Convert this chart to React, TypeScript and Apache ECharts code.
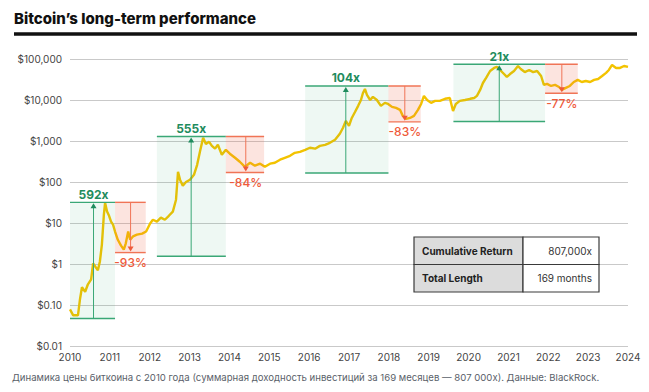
import React, { useEffect, useRef } from "react";
import * as echarts from "echarts";

// Bitcoin price: [year, price in USD]
const priceYears = [
  2010.0, 2010.08, 2010.2, 2010.25, 2010.3, 2010.38, 2010.45, 2010.53, 2010.58, 2010.65,
  2010.7, 2010.75, 2010.8, 2010.85, 2010.88, 2010.93, 2010.98, 2011.03, 2011.08, 2011.13,
  2011.2, 2011.28, 2011.35, 2011.4, 2011.46, 2011.51, 2011.58, 2011.68, 2011.81, 2011.91,
  2012.01, 2012.08, 2012.18, 2012.28, 2012.38, 2012.48, 2012.58, 2012.66, 2012.71, 2012.76,
  2012.83, 2012.91, 2013.01, 2013.11, 2013.19, 2013.26, 2013.34, 2013.41, 2013.49, 2013.56,
  2013.64, 2013.71, 2013.81, 2013.91, 2014.01, 2014.14, 2014.26, 2014.39, 2014.52, 2014.64,
  2014.77, 2014.89, 2015.02, 2015.14, 2015.27, 2015.39, 2015.52, 2015.64, 2015.77, 2015.9,
  2016.02, 2016.15, 2016.27, 2016.4, 2016.52, 2016.65, 2016.77, 2016.85, 2016.92, 2017.0,
  2017.07, 2017.15, 2017.23, 2017.3, 2017.35, 2017.4, 2017.45, 2017.53, 2017.6, 2017.7,
  2017.8, 2017.9, 2017.98, 2018.08, 2018.18, 2018.28, 2018.35, 2018.43, 2018.53, 2018.63,
  2018.73, 2018.81, 2018.88, 2018.96, 2019.06, 2019.16, 2019.28, 2019.41, 2019.53, 2019.61,
  2019.68, 2019.78, 2019.91, 2020.04, 2020.14, 2020.21, 2020.29, 2020.36, 2020.44, 2020.54,
  2020.64, 2020.71, 2020.79, 2020.89, 2020.96, 2021.04, 2021.14, 2021.24, 2021.31, 2021.41,
  2021.52, 2021.62, 2021.72, 2021.82, 2021.89, 2021.97, 2022.07, 2022.17, 2022.27, 2022.34,
  2022.44, 2022.54, 2022.64, 2022.74, 2022.84, 2022.94, 2023.05, 2023.15, 2023.25, 2023.35,
  2023.45, 2023.52, 2023.6, 2023.7, 2023.8, 2023.9, 2024.0,
];
const prices = [
  0.078, 0.056, 0.056, 0.137, 0.27, 0.21, 0.32, 0.42, 1.03, 0.82,
  0.7, 1.15, 2.98, 16, 31, 19, 15, 10.8, 9.1, 6.2,
  3.9, 2.8, 2.25, 3.2, 6.2, 3.9, 4.7, 5.2, 5.5, 6.2,
  9.7, 12, 10.8, 13.5, 12, 15, 19, 37, 178, 114,
  81, 100, 114, 150, 263, 545, 1200, 850, 955, 760,
  650, 810, 460, 610, 490, 390, 312, 235, 295, 250,
  280, 235, 280, 295, 350, 390, 435, 515, 545, 610,
  685, 650, 760, 807, 905, 1070, 1500, 2100, 3100, 2340,
  3650, 5100, 7200, 10000, 14800, 18600, 13300, 10000, 11900, 10000,
  7200, 8500, 8000, 6800, 6400, 5750, 4100, 3450, 3650, 4100,
  5750, 8000, 12600, 10000, 8500, 9500, 9500, 10700, 11200, 5400,
  8000, 9500, 10000, 10700, 11200, 12600, 17600, 26000, 34500, 51000,
  60500, 64000, 54000, 43000, 36500, 43000, 51000, 67500, 57000, 48000,
  54000, 48000, 51000, 38500, 23300, 24700, 22000, 23300, 20800, 17600,
  19700, 22000, 27500, 31000, 27500, 29000, 27500, 31000, 32500, 38500,
  46000, 54000, 71500, 60500, 60500, 67500, 64000,
];

// Market cycles: rally window start/end, drawdown end, arrow positions, levels
const cycleStart = [2010.0, 2012.18, 2015.9, 2019.62];
const cyclePeakEnd = [2011.13, 2013.91, 2017.99, 2021.92];
const cycleDrawEnd = [2011.9, 2014.87, 2018.8, 2022.74];
const gainArrowYear = [2010.59, 2013.04, 2016.92, 2020.77];
const lossArrowYear = [2011.52, 2014.41, 2018.4, 2022.34];
const cycleHigh = [31.9, 1290, 22000, 74300];
const cycleLow = [0.047, 1.55, 166, 2980];
const drawdownLow = [1.9, 171, 2930, 14600];
const gainLabels = ["592x", "555x", "104x", "21x"];
const lossLabels = ["-93%", "-84%", "-83%", "-77%"];

const yearTicks = [2010, 2011, 2012, 2013, 2014, 2015, 2016, 2017, 2018, 2019, 2020, 2021, 2022, 2023, 2024];

const tableLabels = ["Cumulative Return", "Total Length"];
const tableValues = ["807,000x", "169 months"];

const title = "Bitcoin’s long-term performance";
const caption =
  "Динамика цены биткоина с 2010 года (суммарная доходность инвестиций за 169 месяцев — 807 000х). Данные: BlackRock.";

const GREEN_LINE = "#3aa776";
const GREEN_TEXT = "#1f8c5e";
const RED_LINE = "#f07456";
const RED_TEXT = "#ef5a3a";
const FONT = "Inter, 'Noto Sans', sans-serif";

function fmtPrice(v: number): string {
  const n = Number(v.toPrecision(3));
  if (n < 1) return "$" + n.toFixed(2);
  return "$" + Math.round(n).toLocaleString("en-US");
}

export default function App() {
  const ref = useRef<HTMLDivElement>(null);

  useEffect(() => {
    if (!ref.current) return;
    const chart = echarts.init(ref.current, undefined, { renderer: "svg" });

    const lineData = priceYears.map((y, i) => [y, prices[i]]);
    const cycleData = cycleStart.map((s, i) => [
      s,
      cyclePeakEnd[i],
      cycleDrawEnd[i],
      gainArrowYear[i],
      lossArrowYear[i],
      cycleHigh[i],
      cycleLow[i],
      drawdownLow[i],
    ]);

    // Table geometry
    const tX = 414, tY = 237, tW = 185, rowH = 27.5, colW = 109;
    const tableGraphics: any[] = [];
    tableLabels.forEach((lab, i) => {
      tableGraphics.push({
        type: "rect",
        shape: { x: tX, y: tY + i * rowH, width: colW, height: rowH },
        style: { fill: "#dcdcdc", stroke: "#3a3a3a", lineWidth: 1.2 },
        z: 100,
      });
      tableGraphics.push({
        type: "rect",
        shape: { x: tX + colW, y: tY + i * rowH, width: tW - colW, height: rowH },
        style: { fill: "#ffffff", stroke: "#3a3a3a", lineWidth: 1.2 },
        z: 100,
      });
      tableGraphics.push({
        type: "text",
        x: tX + 8,
        y: tY + i * rowH + rowH / 2,
        style: {
          text: lab,
          fill: "#222",
          font: `bold 10px ${FONT}`,
          textVerticalAlign: "middle",
          textAlign: "left",
        },
        z: 101,
      });
      tableGraphics.push({
        type: "text",
        x: tX + tW - 7,
        y: tY + i * rowH + rowH / 2,
        style: {
          text: tableValues[i],
          fill: "#333",
          font: `10px ${FONT}`,
          textVerticalAlign: "middle",
          textAlign: "right",
        },
        z: 101,
      });
    });

    const option: any = {
      animation: false,
      backgroundColor: "#ffffff",
      grid: { left: 70, right: 21, top: 59, bottom: 46, containLabel: false },
      xAxis: {
        type: "value",
        min: yearTicks[0],
        max: yearTicks[yearTicks.length - 1],
        interval: 1,
        axisLine: { show: false },
        axisTick: { show: false },
        splitLine: { show: false },
        axisLabel: {
          color: "#444",
          fontFamily: FONT,
          fontSize: 10,
          margin: 6,
          formatter: (v: number) => String(Math.round(v)),
        },
      },
      yAxis: {
        type: "log",
        logBase: 10,
        min: 0.01,
        max: 100000,
        splitNumber: 7,
        axisLine: { show: false },
        axisTick: { show: false },
        splitLine: { show: true, lineStyle: { color: "#c9c9c9", width: 1 } },
        axisLabel: {
          color: "#444",
          fontFamily: FONT,
          fontSize: 10,
          margin: 8,
          formatter: (v: number) => fmtPrice(v),
        },
      },
      series: [
        {
          type: "line",
          data: lineData,
          showSymbol: false,
          smooth: false,
          lineStyle: { color: "#f3c300", width: 2.4 },
          z: 2,
        },
        {
          type: "custom",
          data: cycleData,
          encode: { x: [0, 1, 2, 3, 4], y: [5, 6, 7] },
          z: 3,
          renderItem: (params: any, api: any) => {
            const i = params.dataIndex;
            const [x0, yTop] = api.coord([api.value(0), api.value(5)]);
            const [x1, yBot] = api.coord([api.value(1), api.value(6)]);
            const [x2, yRb] = api.coord([api.value(2), api.value(7)]);
            const xa = api.coord([api.value(3), api.value(5)])[0];
            const xr = api.coord([api.value(4), api.value(5)])[0];
            return {
              type: "group",
              children: [
                {
                  type: "rect",
                  shape: { x: x0, y: yTop, width: x1 - x0, height: yBot - yTop },
                  style: { fill: "rgba(40,160,100,0.08)" },
                },
                {
                  type: "rect",
                  shape: { x: x1, y: yTop, width: x2 - x1, height: yRb - yTop },
                  style: { fill: "rgba(240,95,65,0.17)" },
                },
                {
                  type: "line",
                  shape: { x1: x0, y1: yTop, x2: x1, y2: yTop },
                  style: { stroke: GREEN_LINE, lineWidth: 1.4 },
                },
                {
                  type: "line",
                  shape: { x1: x0, y1: yBot, x2: x1, y2: yBot },
                  style: { stroke: GREEN_LINE, lineWidth: 1.4 },
                },
                {
                  type: "line",
                  shape: { x1: x1, y1: yTop, x2: x2, y2: yTop },
                  style: { stroke: RED_LINE, lineWidth: 1.4 },
                },
                {
                  type: "line",
                  shape: { x1: x1, y1: yRb, x2: x2, y2: yRb },
                  style: { stroke: RED_LINE, lineWidth: 1.4 },
                },
                {
                  type: "line",
                  shape: { x1: xa, y1: yBot, x2: xa, y2: yTop + 5 },
                  style: { stroke: GREEN_LINE, lineWidth: 1 },
                },
                {
                  type: "polygon",
                  shape: { points: [[xa - 3, yTop + 6], [xa + 3, yTop + 6], [xa, yTop + 1]] },
                  style: { fill: GREEN_TEXT },
                },
                {
                  type: "line",
                  shape: { x1: xr, y1: yTop, x2: xr, y2: yRb - 5 },
                  style: { stroke: RED_LINE, lineWidth: 1 },
                },
                {
                  type: "polygon",
                  shape: { points: [[xr - 3, yRb - 6], [xr + 3, yRb - 6], [xr, yRb - 1]] },
                  style: { fill: RED_TEXT },
                },
                {
                  type: "text",
                  x: xa,
                  y: yTop - 8,
                  style: {
                    text: gainLabels[i],
                    fill: GREEN_TEXT,
                    font: `bold 12px ${FONT}`,
                    textAlign: "center",
                    textVerticalAlign: "middle",
                  },
                },
                {
                  type: "text",
                  x: xr,
                  y: yRb + 10,
                  style: {
                    text: lossLabels[i],
                    fill: RED_TEXT,
                    font: `500 12px ${FONT}`,
                    textAlign: "center",
                    textVerticalAlign: "middle",
                  },
                },
              ],
            };
          },
        },
      ],
      graphic: [
        {
          type: "text",
          left: 14,
          top: 11,
          style: {
            text: title,
            fill: "#111",
            font: `800 15px ${FONT}`,
          },
        },
        {
          type: "rect",
          shape: { x: 14, y: 32.3, width: 623, height: 3.4 },
          style: { fill: "#111" },
        },
        {
          type: "text",
          left: 12,
          top: 372,
          style: {
            text: caption,
            fill: "#5a5f6a",
            font: `9.6px ${FONT}`,
          },
        },
        ...tableGraphics,
      ],
    };

    chart.setOption(option);
    return () => chart.dispose();
  }, []);

  return (
    <div
      ref={ref}
      style={{ position: "fixed", left: 0, top: 0, width: 649, height: 392 }}
    />
  );
}
